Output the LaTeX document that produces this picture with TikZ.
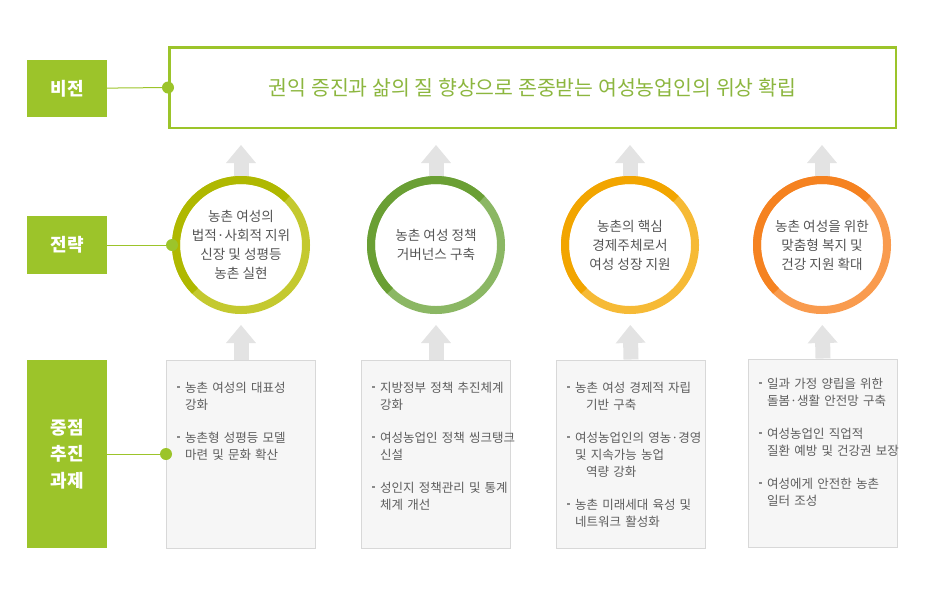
\documentclass[tikz,border=0pt]{standalone}
\usepackage{fontspec}
\setmainfont{Noto Sans CJK KR}
\newfontfamily\taskfont{Noto Sans CJK KR}[WordSpace=0.7]
\usetikzlibrary{arrows.meta, positioning, math, calc}

\definecolor{labelGreen}{HTML}{9CC42A}
\definecolor{visionText}{HTML}{8CB63F}
\definecolor{arrowGray}{HTML}{E3E3E3}
\definecolor{circText}{HTML}{555555}
\definecolor{taskText}{HTML}{5E5E5E}
\definecolor{taskFill}{HTML}{F6F6F6}
\definecolor{taskBorder}{HTML}{D8D8D8}
\definecolor{bulletGray}{HTML}{8A8A8A}
\definecolor{ringOneDark}{HTML}{AFB800}
\definecolor{ringOneLight}{HTML}{C4C92F}
\definecolor{ringTwoDark}{HTML}{6A9F34}
\definecolor{ringTwoLight}{HTML}{8BB764}
\definecolor{ringThreeDark}{HTML}{F2A500}
\definecolor{ringThreeLight}{HTML}{F6BA36}
\definecolor{ringFourDark}{HTML}{F58220}
\definecolor{ringFourLight}{HTML}{F99B4E}

\newcommand{\taskitem}[1]{\hangindent=8pt\hangafter=1\noindent\makebox[8pt][l]{\textcolor{bulletGray}{\rule[4pt]{2.5pt}{2.5pt}}}#1\par\vspace{16pt}}

\begin{document}
\begin{tikzpicture}[x=1pt, y=1pt]
	\tikzmath{
		\ringR  = 65;    %ring radius, middle of the line
		\ringW  = 8;     %ring line width
		\taskW  = 149;   %task box width
		\taskH  = 188;   %task box height
		\labelW = 80;    %label box width
		\shaftW = 15;    %arrow shaft width
		\rowS   = -245;  %strategy row
		\rowT   = -454;  %task row
		\itemX  = 11;    %item text from task box left
		\itemY  = 32.5;  %first baseline under task box top
	}
	\tikzstyle{LabelNode} = [
		minimum width=\labelW pt,
		inner sep=0pt,
		fill=labelGreen,
		text=white,
		align=center,
		font=\bfseries\fontsize{18}{26.5}\selectfont
	]
	\tikzstyle{VisionNode} = [
		minimum width=726.5pt,
		minimum height=80.5pt,
		draw=labelGreen,
		line width=2.5pt,
		text=visionText,
		font=\fontsize{20.5}{20.5}\selectfont
	]
	\tikzstyle{CircNode} = [
		circle,
		minimum size=2*\ringR pt,
		inner sep=0pt,
		line width=\ringW pt,
		align=center,
		text=circText,
		font=\fontsize{13.6}{19}\selectfont
	]
	\tikzstyle{Ring}     = [line width=\ringW pt]
	\tikzstyle{TaskNode} = [
		minimum width=\taskW pt,
		minimum height=\taskH pt,
		draw=taskBorder,
		fill=taskFill,
		line width=1pt
	]
	\tikzstyle{ItemText} = [
		anchor=base west,
		inner sep=0pt,
		text width=170pt,
		align=left,
		text=taskText,
		font=\taskfont\fontsize{12.5}{17}\selectfont
	]
	\tikzstyle{Dot}     = [circle, fill=labelGreen, minimum size=12pt, inner sep=0pt]
	\tikzstyle{Link}    = [draw=labelGreen, line width=1pt]
	\tikzstyle{UpArrow} = [
		draw=arrowGray,
		line width=\shaftW pt,
		-{Triangle[width=30pt, length=18pt, line width=0pt]}
	]

	\useasboundingbox (0,0) rectangle (925,-603);

	%%%%%%%%%%%%%%%%%%%%%%%%%%===---LABELS---===%%%%%%%%%%%%%%%%%%%%%%%%%%
	\node (lblVision)   [LabelNode, minimum height=57pt]  at (67,-88.5) {비전};
	\node (lblStrategy) [LabelNode, minimum height=58pt]  at (67,\rowS) {전략};
	\node (lblTask)     [LabelNode, minimum height=188pt] at (67,\rowT) {중점\\추진\\과제};

	%%%%%%%%%%%%%%%%%%%%%%%%%%===---VISION---===%%%%%%%%%%%%%%%%%%%%%%%%%%
	\node (vision) [VisionNode] at (532.5,-87.5) {권익 증진과 삶의 질 향상으로 존중받는 여성농업인의 위상 확립};
	\node (dotVision) [Dot] at (vision.west) {};
	\draw[Link] (lblVision) -- (dotVision);

	%%%%%%%%%%%%%%%%%%%%%%%%%%===---STRATEGY---===%%%%%%%%%%%%%%%%%%%%%%%%%%
	\node (circ1) [CircNode, draw=ringOneLight]   at (241,\rowS) {농촌 여성의\\법적·사회적 지위\\신장 및 성평등\\농촌 실현};
	\draw[Ring, ringOneDark] (circ1.center) ++(45:\ringR) arc[start angle=45, end angle=225, radius=\ringR pt];
	\node (circ2) [CircNode, draw=ringTwoLight]   at (436,\rowS) {농촌 여성 정책\\거버넌스 구축};
	\draw[Ring, ringTwoDark] (circ2.center) ++(45:\ringR) arc[start angle=45, end angle=225, radius=\ringR pt];
	\node (circ3) [CircNode, draw=ringThreeLight] at (630,\rowS) {농촌의 핵심\\경제주체로서\\여성 성장 지원};
	\draw[Ring, ringThreeDark] (circ3.center) ++(45:\ringR) arc[start angle=45, end angle=225, radius=\ringR pt];
	\node (circ4) [CircNode, draw=ringFourLight]  at (822,\rowS) {농촌 여성을 위한\\맞춤형 복지 및\\건강 지원 확대};
	\draw[Ring, ringFourDark] (circ4.center) ++(45:\ringR) arc[start angle=45, end angle=225, radius=\ringR pt];

	\node (dotStrategy) [Dot] at (circ1.west) {};
	\draw[Link] (lblStrategy) -- (dotStrategy);

	\draw[UpArrow, shorten >=16pt] (circ1.north) -- (circ1.north |- vision.south);
	\draw[UpArrow, shorten >=16pt] (circ2.north) -- (circ2.north |- vision.south);
	\draw[UpArrow, shorten >=16pt] (circ3.north) -- (circ3.north |- vision.south);
	\draw[UpArrow, shorten >=16pt] (circ4.north) -- (circ4.north |- vision.south);

	%%%%%%%%%%%%%%%%%%%%%%%%%%===---TASKS---===%%%%%%%%%%%%%%%%%%%%%%%%%%
	\node (task1) [TaskNode] at (241,\rowT) {};
	\node (items1) [ItemText] at ($(task1.north west)+(\itemX,-\itemY)$) {%
		\taskitem{농촌 여성의 대표성\newline 강화}%
		\taskitem{농촌형 성평등 모델\newline 마련 및 문화 확산}};

	\node (task2) [TaskNode] at (436,\rowT) {};
	\node (items2) [ItemText] at ($(task2.north west)+(\itemX,-\itemY)$) {%
		\taskitem{지방정부 정책 추진체계\newline 강화}%
		\taskitem{여성농업인 정책 씽크탱크\newline 신설}%
		\taskitem{성인지 정책관리 및 통계\newline 체계 개선}};

	\node (task3) [TaskNode] at (631,\rowT) {};
	\node (items3) [ItemText] at ($(task3.north west)+(\itemX,-\itemY)$) {%
		\taskitem{농촌 여성 경제적 자립\newline\hspace*{11pt}기반 구축}%
		\taskitem{여성농업인의 영농·경영\newline 및 지속가능 농업\newline\hspace*{11pt}역량 강화}%
		\taskitem{농촌 미래세대 육성 및\newline 네트워크 활성화}};

	\node (task4) [TaskNode] at (823,\rowT+1) {};
	\node (items4) [ItemText] at ($(task4.north west)+(\itemX,-\itemY+3)$) {%
		\taskitem{일과 가정 양립을 위한\newline 돌봄·생활 안전망 구축}%
		\taskitem{여성농업인 직업적\newline 질환 예방 및 건강권 보장}%
		\taskitem{여성에게 안전한 농촌\newline 일터 조성}};

	\node (dotTask) [Dot] at (task1.west) {};
	\draw[Link] (lblTask) -- (dotTask);

	\draw[UpArrow, shorten >=11pt] (task1.north) -- (circ1.south);
	\draw[UpArrow, shorten >=11pt] (task2.north) -- (circ2.south);
	\draw[UpArrow, shorten >=11pt] (task3.north) -- (circ3.south);
	\draw[UpArrow, shorten >=11pt] (task4.north) -- (circ4.south);
\end{tikzpicture}
\end{document}
